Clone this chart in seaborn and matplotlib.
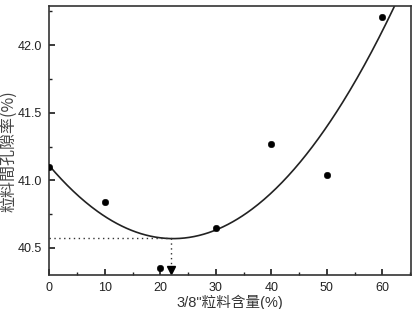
import numpy as np
import pandas as pd
import seaborn as sns
import matplotlib
matplotlib.use("Agg")
import matplotlib.pyplot as plt
from matplotlib.ticker import MultipleLocator

content = [0, 10, 20, 30, 40, 50, 60]
porosity = [41.10, 40.84, 40.35, 40.65, 41.27, 41.04, 42.21]
opt_x = 22
opt_y = 40.57
marker_y = 40.34
xlabel = '3/8"粒料含量(%)'
ylabel = '粒料間孔隙率(%)'

sns.set_theme(style="ticks")
plt.rcParams['font.family'] = ['Liberation Sans', 'Noto Sans CJK TC']

df = pd.DataFrame({"x": content, "y": porosity})
coef = np.polyfit(content, porosity, 2)
xs = np.linspace(0, 65, 300)
curve = pd.DataFrame({"x": xs, "y": np.polyval(coef, xs)})

fig = plt.figure(figsize=(4.14, 3.09), dpi=100)
ax = fig.add_axes([0.119, 0.110, 0.873, 0.871])

sns.lineplot(data=curve, x="x", y="y", ax=ax, color="#222222", lw=1.2)
sns.scatterplot(data=df, x="x", y="y", ax=ax, color="black", s=22, edgecolor="black", zorder=5)
ax.plot([0, opt_x], [opt_y, opt_y], ls=(0, (1, 2.5)), color="#333333", lw=1)
ax.plot([opt_x, opt_x], [opt_y, marker_y], ls=(0, (1, 2.5)), color="#333333", lw=1)
ax.plot([opt_x], [marker_y], marker="v", color="black", ms=6)

ax.set_xlim(0, 65.1)
ax.set_ylim(40.30, 42.29)
ax.set_xticks([0, 10, 20, 30, 40, 50, 60])
ax.set_yticks([40.5, 41.0, 41.5, 42.0])
ax.xaxis.set_minor_locator(MultipleLocator(5))
ax.yaxis.set_minor_locator(MultipleLocator(0.25))
ax.tick_params(which="both", direction="in", top=False, right=False, labelsize=9, colors="#222222")
ax.tick_params(which="major", length=4, pad=5)
ax.tick_params(which="minor", length=2.5)
for s in ax.spines.values():
    s.set_linewidth(1.2)
    s.set_color("#333333")

ax.set_xlabel(xlabel, fontsize=10.5, labelpad=0, color="#333333",
              family=['Liberation Sans', 'Noto Sans CJK TC'])
ax.set_ylabel(ylabel, fontsize=11.5, labelpad=4, color="#444444",
              family=['Noto Sans CJK TC', 'Liberation Sans'])
ax.yaxis.set_label_coords(-0.089, 0.46)
ax.xaxis.set_label_coords(0.50, -0.072)

fig.savefig("out.png", dpi=100)
